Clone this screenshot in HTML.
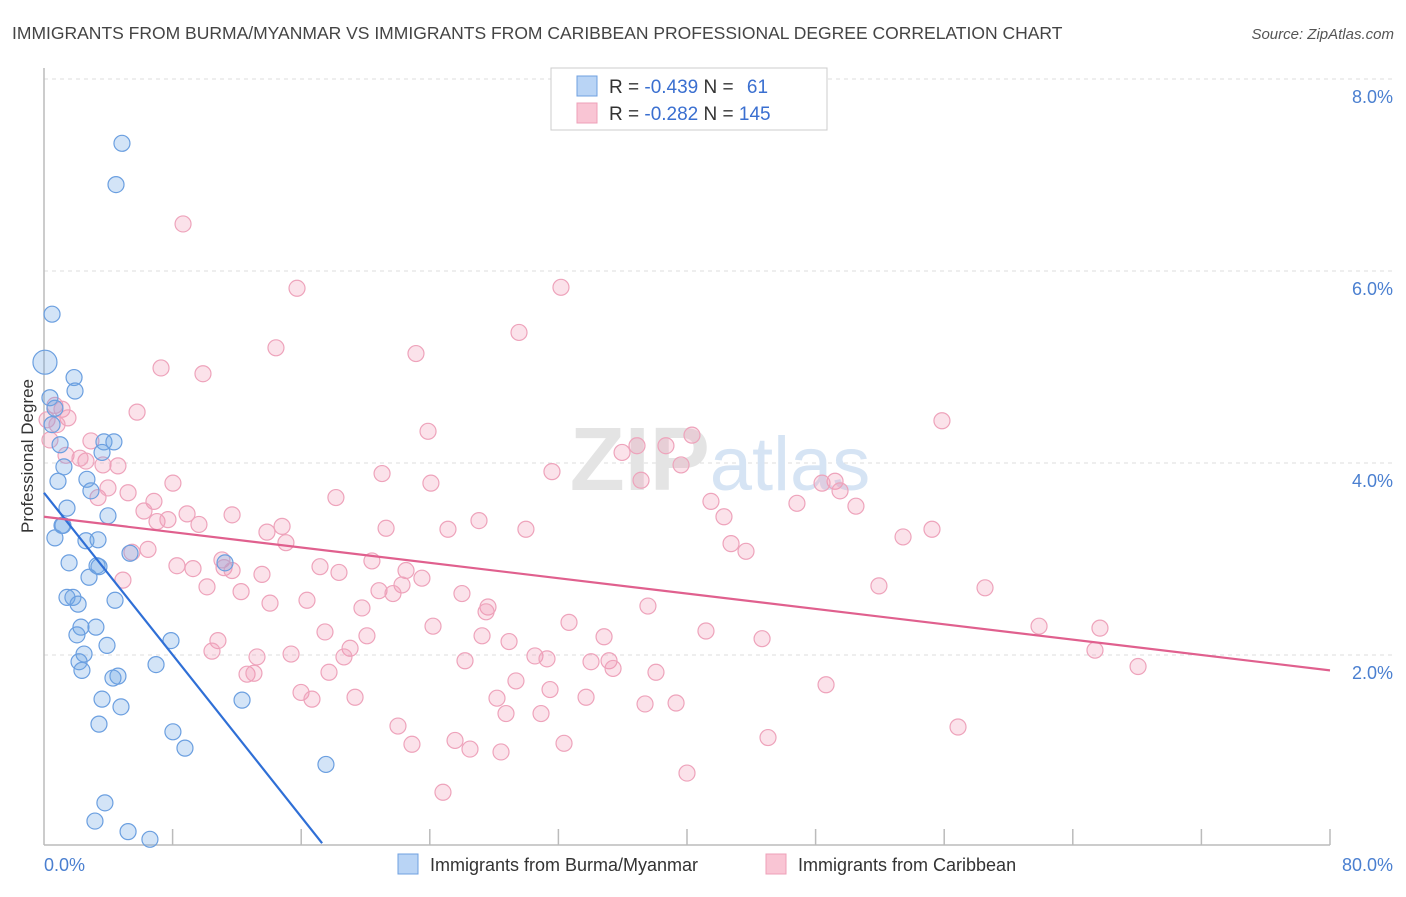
<!DOCTYPE html>
<html><head><meta charset="utf-8"><style>
body{margin:0;background:#fff;font-family:"Liberation Sans",sans-serif}
svg text{font-family:"Liberation Sans",sans-serif}
</style></head><body>
<svg id="chart" width="1406" height="892" viewBox="0 0 1406 892" xmlns="http://www.w3.org/2000/svg">
<text x="12" y="39" font-size="17.5" fill="#444">IMMIGRANTS FROM BURMA/MYANMAR VS IMMIGRANTS FROM CARIBBEAN PROFESSIONAL DEGREE CORRELATION CHART</text>
<text x="1394" y="39" font-size="15" fill="#555" font-style="italic" text-anchor="end">Source: ZipAtlas.com</text>
<g id="grid"></g>
<text x="720" y="490" font-size="90" fill="#e4e4e4" text-anchor="middle" font-family="Liberation Serif"><tspan font-weight="bold">ZIP</tspan><tspan fill="#d6e4f4" font-family="Liberation Sans" font-size="76">atlas</tspan></text>
<g id="axes"></g>
<g id="pts"></g>
<g id="lines"></g>
<text transform="translate(33,456) rotate(-90)" font-size="17" fill="#333" text-anchor="middle">Professional Degree</text>
<g>
<rect x="551" y="68" width="276" height="62" fill="#fff" stroke="#ccc"/>
<rect x="577" y="76" width="20" height="20" fill="#b9d4f5" stroke="#6fa0e0"/>
<rect x="577" y="103" width="20" height="20" fill="#f9c5d4" stroke="#eea0b8"/>
<text x="609" y="93" font-size="19" fill="#333">R = <tspan fill="#3a6fd0">-0.439</tspan>   N = <tspan fill="#3a6fd0" dx="8">61</tspan></text>
<text x="609" y="120" font-size="19" fill="#333">R = <tspan fill="#3a6fd0">-0.282</tspan>   N = <tspan fill="#3a6fd0">145</tspan></text>
</g>
<g>
<rect x="398" y="854" width="20" height="20" fill="#b9d4f5" stroke="#6fa0e0"/>
<text x="430" y="871" font-size="18" fill="#333">Immigrants from Burma/Myanmar</text>
<rect x="766" y="854" width="20" height="20" fill="#f9c5d4" stroke="#eea0b8"/>
<text x="798" y="871" font-size="18" fill="#333">Immigrants from Caribbean</text>
</g>
</svg>
<script>
const yTicks=[2,4,6,8];
const yTickLabels=["2.0%","4.0%","6.0%","8.0%"];
const xEnds=[0,80];
const xEndLabels=["0.0%","80.0%"];
const blueX=[4.85,4.48,0.5,0.06,1.87,1.93,0.37,0.68,0.5,1.0,3.73,4.35,3.61,1.24,0.87,2.67,2.92,3.98,1.43,1.12,0.68,2.61,3.36,5.35,1.56,3.3,2.8,1.43,1.8,2.12,4.42,3.23,2.3,2.05,3.92,7.9,2.49,2.18,2.36,6.97,4.6,4.29,3.61,12.32,3.42,4.79,8.02,8.77,17.54,3.79,3.17,5.23,6.59,1.18,3.42,11.26];
const blueY=[7.33,6.9,5.55,5.05,4.89,4.75,4.68,4.57,4.4,4.19,4.22,4.22,4.11,3.96,3.81,3.83,3.71,3.45,3.53,3.35,3.22,3.19,3.2,3.06,2.96,2.93,2.81,2.6,2.6,2.53,2.57,2.29,2.29,2.21,2.1,2.15,2.01,1.93,1.84,1.9,1.78,1.76,1.54,1.53,1.28,1.46,1.2,1.03,0.86,0.46,0.27,0.16,0.08,3.35,2.92,2.96];
const pinkX=[8.65,15.74,32.16,29.55,14.43,23.14,7.28,9.89,5.79,55.86,23.89,0.68,1.12,1.49,0.19,0.81,0.37,2.92,1.37,2.61,3.67,4.6,2.24,40.31,38.69,36.89,35.96,39.63,21.03,31.6,37.14,8.02,24.07,3.36,5.23,3.98,6.84,6.22,7.03,7.71,8.9,9.64,11.7,18.16,41.49,42.3,46.84,49.21,49.52,48.4,50.51,27.06,21.28,25.13,29.98,14.81,13.87,15.05,55.24,53.44,42.74,43.67,6.47,5.47,11.07,11.2,8.27,9.27,11.7,4.91,13.56,17.17,18.35,20.4,22.52,23.51,22.27,20.84,21.71,10.14,12.26,14.06,16.36,26.0,27.62,27.5,19.78,37.57,51.94,58.54,32.66,24.2,17.48,20.09,27.25,28.93,34.84,41.18,44.67,61.9,65.69,65.38,10.82,10.45,13.25,15.37,19.04,18.66,30.54,31.29,26.19,34.03,35.15,35.4,38.07,17.73,12.63,13.06,29.36,31.48,33.72,28.18,15.99,16.67,19.35,28.74,30.92,37.39,39.32,48.65,68.06,22.02,22.89,25.57,26.5,28.43,32.35,45.04,56.86,40.0,24.82];
const pinkY=[6.49,5.82,5.83,5.36,5.2,5.14,4.99,4.93,4.53,4.44,4.33,4.6,4.56,4.47,4.45,4.4,4.24,4.23,4.08,4.02,3.98,3.97,4.05,4.29,4.18,4.18,4.11,3.98,3.89,3.91,3.82,3.79,3.79,3.64,3.69,3.74,3.6,3.5,3.39,3.41,3.47,3.36,3.46,3.64,3.6,3.44,3.58,3.81,3.71,3.79,3.55,3.4,3.32,3.31,3.31,3.34,3.28,3.17,3.31,3.23,3.16,3.08,3.1,3.07,2.99,2.91,2.93,2.9,2.88,2.78,2.84,2.92,2.86,2.98,2.88,2.8,2.73,2.67,2.64,2.71,2.66,2.54,2.57,2.64,2.5,2.45,2.49,2.51,2.72,2.7,2.34,2.3,2.24,2.2,2.2,2.14,2.19,2.25,2.17,2.3,2.28,2.05,2.15,2.04,1.98,2.01,2.07,1.98,1.99,1.96,1.94,1.93,1.94,1.86,1.82,1.82,1.8,1.81,1.73,1.64,1.56,1.55,1.61,1.54,1.56,1.39,1.39,1.49,1.5,1.69,1.88,1.26,1.07,1.11,1.02,0.99,1.08,1.14,1.25,0.77,0.57];
const blueTrend=[[0,3.69],[17.3,0.04]];
const pinkTrend=[[0,3.44],[80,1.84]];

const NS="http://www.w3.org/2000/svg";
function sx(v){return 44+v/80*1286;}
function sy(v){return 847-v*96;}
function mk(tag,attrs,parent){const e=document.createElementNS(NS,tag);for(const k in attrs)e.setAttribute(k,attrs[k]);parent.appendChild(e);return e;}
const grid=document.getElementById('grid'),axes=document.getElementById('axes'),pts=document.getElementById('pts'),lines=document.getElementById('lines');
yTicks.forEach((t,i)=>{
  const l=mk('line',{x1:44,x2:1393,y1:sy(t),y2:sy(t),stroke:'#ddd','stroke-dasharray':'4,4'},grid);
  
  
  const tx=mk('text',{x:1393,y:sy(t)+24,'font-size':18,fill:'#4a7fd0','text-anchor':'end'},axes);
  tx.textContent=yTickLabels[i];
  
  
});
const gt=mk('line',{x1:44,x2:1393,y1:sy(8),y2:sy(8),stroke:'#ddd','stroke-dasharray':'4,4'},grid);
mk('line',{x1:44,x2:44,y1:68,y2:845,stroke:'#bbb','stroke-width':1.5},axes);
mk('line',{x1:44,x2:1330,y1:845,y2:845,stroke:'#bbb','stroke-width':1.5},axes);
for(let v=8;v<=80;v+=8){
  const tk=mk('line',{x1:sx(v),x2:sx(v),y1:829,y2:845,stroke:'#bbb','stroke-width':1.5},axes);
  
  
}
xEnds.forEach((v,i)=>{
  const tx=mk('text',{x:i==0?sx(v):1393,y:871,'font-size':18,fill:'#4a7fd0','text-anchor':i==0?'start':'end'},axes);
  tx.textContent=xEndLabels[i];
  
  
});
pinkX.forEach((x,i)=>{
  const c=mk('circle',{cx:sx(x),cy:sy(pinkY[i]),r:8,fill:'rgba(242,150,180,0.28)',stroke:'#eea3bb','stroke-width':1.2},pts);
  
  
});
blueX.forEach((x,i)=>{
  const c=mk('circle',{cx:sx(x),cy:sy(blueY[i]),r:i==3?12:8,fill:'rgba(110,165,230,0.3)',stroke:'#6b9fe0','stroke-width':1.2},pts);
  
  
});
const bl=mk('line',{x1:sx(blueTrend[0][0]),y1:sy(blueTrend[0][1]),x2:sx(blueTrend[1][0]),y2:sy(blueTrend[1][1]),stroke:'#2f6fd6','stroke-width':2.2},lines);


const pl=mk('line',{x1:sx(pinkTrend[0][0]),y1:sy(pinkTrend[0][1]),x2:sx(pinkTrend[1][0]),y2:sy(pinkTrend[1][1]),stroke:'#e0608e','stroke-width':2.2},lines);


</script>
</body></html>
